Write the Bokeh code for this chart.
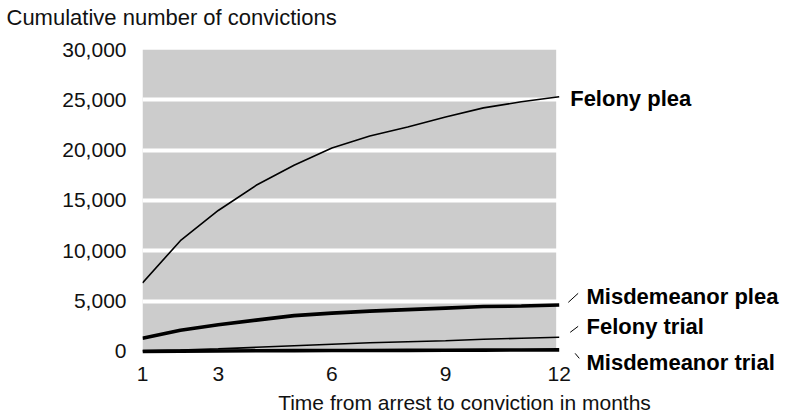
from bokeh.plotting import figure
from bokeh.models import Range1d, FixedTicker, NumeralTickFormatter, Label, Title
from bokeh.embed import file_html
from bokeh.resources import INLINE

months = [1, 2, 3, 4, 5, 6, 7, 8, 9, 10, 11, 12]
felony_plea = [6800, 11000, 14000, 16500, 18500, 20200, 21400, 22300, 23300, 24200, 24800, 25300]
misdemeanor_plea = [1300, 2100, 2650, 3100, 3550, 3800, 4000, 4150, 4300, 4450, 4500, 4600]
felony_trial = [50, 130, 250, 400, 550, 700, 850, 950, 1050, 1200, 1300, 1400]
misdemeanor_trial = [0, 20, 40, 60, 70, 80, 90, 100, 110, 120, 130, 150]
x_ticks = [1, 3, 6, 9, 12]
y_ticks = [0, 5000, 10000, 15000, 20000, 25000, 30000]
series_labels = ["Felony plea", "Misdemeanor  plea", "Felony trial", "Misdemeanor trial"]

FONT = "Liberation Sans"
FS = "21px"
FS_BIG = "22px"

p = figure(width=786, height=416, output_backend="svg", toolbar_location=None,
           x_range=Range1d(1, 18.0), y_range=Range1d(-2500, 30000),
           min_border_left=142, min_border_right=0, min_border_top=49, min_border_bottom=40)
p.outline_line_color = None
p.background_fill_color = "white"
p.border_fill_color = "white"
p.xgrid.visible = False
p.ygrid.visible = False

# spacer panel between frame and title, then the title itself
p.add_layout(Title(text=" ", text_font_size="1px", standoff=17), "above")
p.add_layout(Title(text="Cumulative number of convictions", align="left", offset=-136,
                   standoff=0, text_font=FONT, text_font_size=FS_BIG,
                   text_font_style="normal", text_color="#111111"), "above")

# grey plotting area with white gridlines
p.quad(left=months[0], right=months[-1] - 0.08, bottom=y_ticks[0], top=y_ticks[-1],
       fill_color="#cccccc", line_color=None)
p.hspan(y=y_ticks[:-1], line_color="white", line_width=4)

p.line(months, felony_plea, line_color="black", line_width=1.6)
p.line(months, misdemeanor_plea, line_color="black", line_width=3.6)
p.line(months, felony_trial, line_color="black", line_width=1.6)
p.line(months, misdemeanor_trial, line_color="black", line_width=3.6)

last = months[-1]
# leader lines
p.segment(x0=[last + 0.24, last + 0.29, last + 0.42],
          y0=[misdemeanor_plea[-1] + 270, felony_trial[-1] + 490, misdemeanor_trial[-1] - 350],
          x1=[last + 0.50, last + 0.50, last + 0.53],
          y1=[misdemeanor_plea[-1] + 1165, felony_trial[-1] + 1085, misdemeanor_trial[-1] - 850],
          line_color="black", line_width=1)

label_pos = [(last + 0.29, felony_plea[-1] - 130),
             (last + 0.72, misdemeanor_plea[-1] + 870),
             (last + 0.72, felony_trial[-1] + 1090),
             (last + 0.72, misdemeanor_trial[-1] - 1245)]
for txt, (lx, ly) in zip(series_labels, label_pos):
    p.add_layout(Label(x=lx, y=ly, text=txt, text_font=FONT, text_font_size=FS_BIG,
                       text_font_style="bold", text_baseline="middle", text_color="black"))

p.xaxis.ticker = FixedTicker(ticks=x_ticks)
p.yaxis.ticker = FixedTicker(ticks=y_ticks)
p.yaxis.formatter = NumeralTickFormatter(format="0,0")
for ax in (p.xaxis, p.yaxis):
    ax.axis_line_color = None
    ax.major_tick_line_color = None
    ax.minor_tick_line_color = None
    ax.major_tick_in = 0
    ax.major_tick_out = 0
    ax.major_label_text_font = FONT
    ax.major_label_text_font_size = FS
    ax.major_label_text_color = "#111111"
p.yaxis.major_label_standoff = 16
p.xaxis.major_label_standoff = -10
p.xaxis.axis_label = "Time from arrest to conviction in months"
p.xaxis.axis_label_text_font = FONT
p.xaxis.axis_label_text_font_size = FS
p.xaxis.axis_label_text_font_style = "normal"
p.xaxis.axis_label_text_color = "#111111"
p.xaxis.axis_label_standoff = 7

open("out.html", "w").write(file_html(p, INLINE))
